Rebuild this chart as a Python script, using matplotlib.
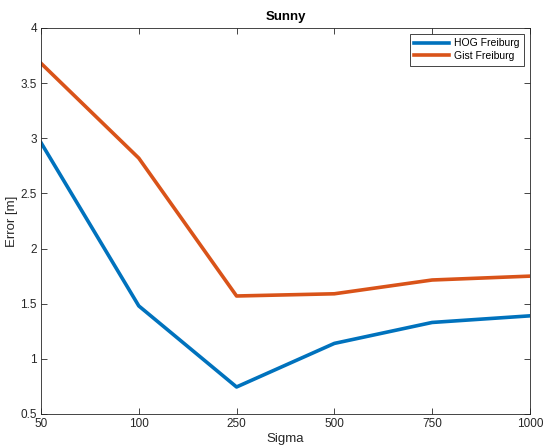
import matplotlib
matplotlib.use("Agg")
import matplotlib.pyplot as plt

sigma_labels = ["50", "100", "250", "500", "750", "1000"]
hog_freiburg = [2.96, 1.48, 0.745, 1.14, 1.33, 1.39]
gist_freiburg = [3.68, 2.82, 1.57, 1.59, 1.715, 1.75]

plt.rcParams["font.family"] = ["Liberation Sans", "DejaVu Sans"]

fig = plt.figure(figsize=(5.44, 4.48), dpi=100)
ax = fig.add_axes([0.0754, 0.0759, 0.8986, 0.8616])

x = list(range(len(sigma_labels)))
ax.plot(x, hog_freiburg, color="#0072BD", lw=2.6, label="HOG Freiburg")
ax.plot(x, gist_freiburg, color="#D95319", lw=2.6, label="Gist Freiburg")

ax.set_xlim(0, len(sigma_labels) - 1)
ax.set_ylim(0.5, 4)
ax.set_xticks(x)
ax.set_xticklabels(sigma_labels)
ax.set_yticks([0.5, 1, 1.5, 2, 2.5, 3, 3.5, 4])
ax.set_yticklabels(["0.5", "1", "1.5", "2", "2.5", "3", "3.5", "4"])

ax.tick_params(direction="in", top=True, right=True, length=4, width=0.6,
               labelsize=8.5, colors="#262626", pad=3)
for s in ax.spines.values():
    s.set_color("#262626")
    s.set_linewidth(0.6)

ax.set_xlabel("Sigma", fontsize=9.5, color="#262626", labelpad=2)
ax.set_ylabel("Error [m]", fontsize=9.5, color="#262626", labelpad=2)
ax.set_title("Sunny", fontsize=9.5, fontweight="bold", color="#000000", pad=6)

leg = ax.legend(loc="upper right", fontsize=7.5, fancybox=False, framealpha=1,
                edgecolor="#262626", handlelength=3.3, borderpad=0.45,
                labelspacing=0.25, handletextpad=0.5, borderaxespad=0.55)
leg.get_frame().set_linewidth(0.6)

fig.savefig("out.png", dpi=100)
